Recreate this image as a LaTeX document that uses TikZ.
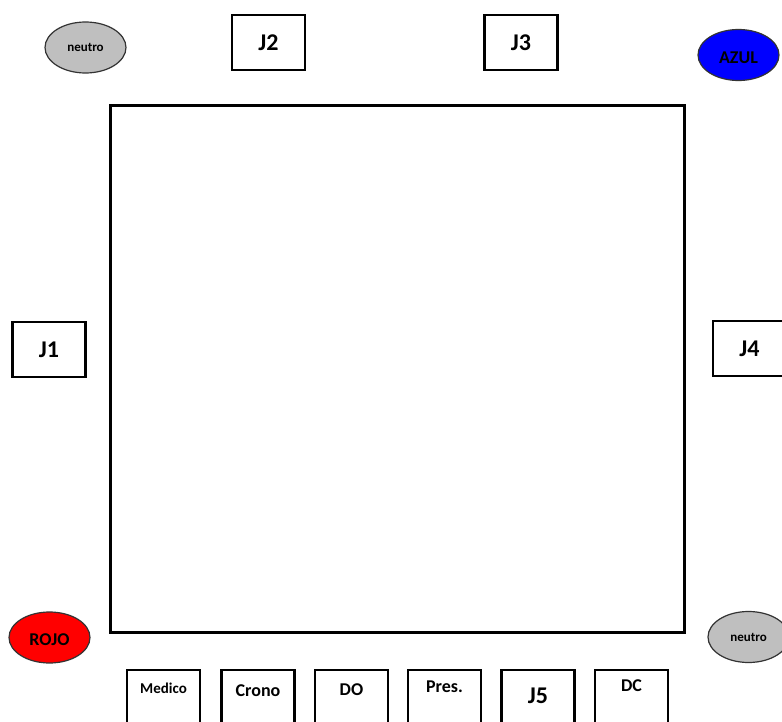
\documentclass[tikz,border=0pt]{standalone}
\usepackage{fontspec}
\setmainfont{Carlito}
\usetikzlibrary{shapes.geometric}

\begin{document}
\begin{tikzpicture}[x=1pt, y=-1pt, line cap=round,
  jbox/.style={draw, line width=2.6pt, minimum width=73pt, minimum height=55pt, inner sep=0pt},
  ficha/.style={draw=black!80, line width=1.2pt, ellipse, minimum width=81pt, minimum height=51pt, inner sep=0pt},
  jtxt/.style={font=\bfseries\fontsize{24}{24}\selectfont},
  ttxt/.style={font=\bfseries\fontsize{18}{18}\selectfont}]
% marco de la imagen
\clip (0,0) rectangle (782,722);
\fill[white] (0,0) rectangle (782,722);
% campo
\draw[line width=3pt] (110,106) rectangle (684,632);
% fichas de las esquinas
\node[ficha, fill=black!25, font=\bfseries\fontsize{13}{13}\selectfont] (neutroA) at (85.5,47.5) {neutro};
\node[ficha, fill=blue, ttxt, text height=17pt] (azul) at (738.5,55) {AZUL};
\node[ficha, fill=red, ttxt, text height=16pt] (rojo) at (49.5,637.5) {ROJO};
\node[ficha, fill=black!25, font=\bfseries\fontsize{13}{13}\selectfont] (neutroB) at (748.5,637) {neutro};
% jugadores
\node[jbox, jtxt] (j1) at (49,349.5) {J1};
\node[jbox, jtxt] (j2) at (268.5,42.5) {J2};
\node[jbox, jtxt] (j3) at (521,42.5) {J3};
\node[jbox, jtxt] (j4) at (749.5,348.5) {J4};
% mesa inferior
\node[jbox] (medico) at (163.5,697.5) {};
\node[jbox] (crono) at (258,697.5) {};
\node[jbox] (do) at (351.5,697.5) {};
\node[jbox] (pres) at (444.5,697.5) {};
\node[jbox] (j5) at (538,697.5) {};
\node[jbox] (dc) at (631.5,697.5) {};
\node[font=\bfseries\fontsize{15}{15}\selectfont] (tmedico) at (163.5,688) {Medico};
\node[ttxt] (tcrono) at (258,690.5) {Crono};
\node[ttxt] (tdo) at (351.5,690) {DO};
\node[ttxt] (tpres) at (444.5,687) {Pres.};
\node[jtxt] (tj5) at (538,696) {J5};
\node[ttxt] (tdc) at (631.5,686) {DC};
\end{tikzpicture}
\end{document}
